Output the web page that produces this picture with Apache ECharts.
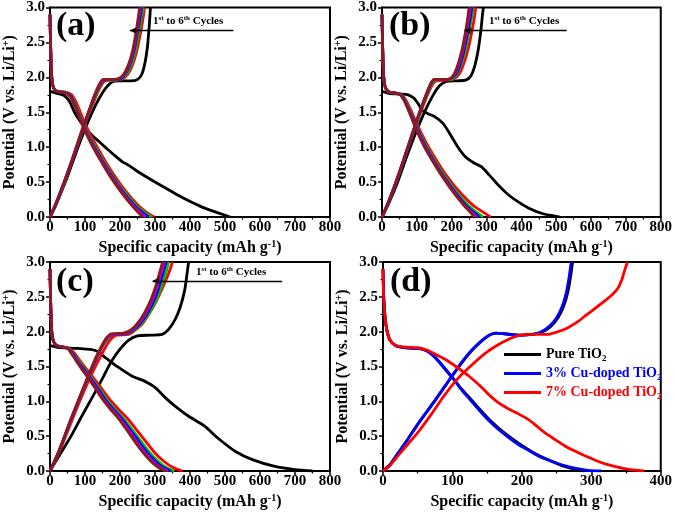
<!DOCTYPE html>
<html><head><meta charset="utf-8">
<script src="https://cdn.jsdelivr.net/npm/echarts@6/dist/echarts.min.js"></script>
<style>html,body{margin:0;padding:0;background:#fff}#c{width:675px;height:512px}</style>
</head><body><div id="c"></div>
<script>
// ---------------- DATA ----------------
const xTicksABC = [0,100,200,300,400,500,600,700,800];
const xTicksD = [0,100,200,300,400];
const yTicks = [0.0,0.5,1.0,1.5,2.0,2.5,3.0];
const cycleNames = ['Cycle 1','Cycle 2','Cycle 3','Cycle 4','Cycle 5','Cycle 6'];
const sampleNames = ['Pure TiO2','3% Cu-doped TiO2','7% Cu-doped TiO2'];

// Panel (a) discharge
const a1Dis = [[0,1.80],[20,1.77],[40,1.74],[55,1.66],[70,1.50],[85,1.38],[100,1.28],[120,1.17],[140,1.08],[160,0.99],[185,0.88],[207,0.79],[225,0.74],[245,0.67],[270,0.59],[300,0.50],[335,0.40],[370,0.30],[405,0.21],[440,0.13],[480,0.06],[515,0]];
const a2Dis = [[0,2.90],[2,2.40],[5,2.00],[10,1.85],[20,1.80],[45,1.79],[62,1.75],[75,1.64],[88,1.48],[100,1.34],[115,1.18],[135,1.00],[158,0.80],[183,0.60],[210,0.41],[235,0.26],[258,0.14],[278,0.06],[298,0]];
const a3Dis = [[0,2.90],[2,2.40],[5,2.00],[10,1.85],[20,1.80],[43,1.79],[60,1.74],[72,1.62],[85,1.46],[97,1.32],[112,1.16],[131,0.99],[154,0.79],[179,0.59],[205,0.41],[230,0.26],[252,0.14],[272,0.06],[290,0]];
const a4Dis = [[0,2.90],[2,2.40],[5,2.00],[10,1.85],[20,1.80],[42,1.78],[58,1.74],[70,1.62],[82,1.47],[94,1.33],[109,1.17],[128,0.99],[151,0.79],[176,0.59],[201,0.41],[225,0.26],[247,0.14],[266,0.06],[282,0]];
const a5Dis = [[0,2.90],[2,2.40],[5,2.00],[10,1.85],[20,1.80],[41,1.78],[56,1.74],[67,1.64],[80,1.49],[92,1.34],[107,1.18],[126,0.99],[149,0.79],[174,0.59],[199,0.41],[222,0.26],[243,0.14],[260,0.06],[273,0]];
const a6Dis = [[0,2.90],[2,2.40],[5,2.00],[10,1.85],[20,1.80],[40,1.78],[55,1.74],[65,1.66],[78,1.50],[90,1.35],[105,1.18],[125,0.98],[148,0.78],[172,0.58],[197,0.40],[220,0.25],[240,0.13],[255,0.05],[265,0]];
// Panel (a) charge
const a1Chg = [[0,0],[15,0.15],[30,0.33],[50,0.58],[70,0.86],[90,1.13],[110,1.38],[130,1.60],[150,1.78],[165,1.88],[180,1.94],[200,1.95],[230,1.95],[250,1.97],[262,2.04],[271,2.20],[278,2.42],[283,2.70],[287,3.00]];
const a2Chg = [[0,0],[15,0.16],[30,0.35],[50,0.62],[70,0.90],[90,1.19],[110,1.46],[130,1.71],[145,1.87],[158,1.95],[180,1.96],[205,1.97],[222,2.04],[236,2.18],[248,2.38],[258,2.62],[266,2.85],[270,3.00]];
const a3Chg = [[0,0],[15,0.16],[30,0.35],[50,0.62],[70,0.91],[90,1.20],[110,1.48],[129,1.73],[144,1.89],[155,1.96],[178,1.96],[201,1.97],[218,2.04],[232,2.18],[244,2.38],[253,2.62],[261,2.85],[266,3.00]];
const a4Chg = [[0,0],[15,0.16],[30,0.35],[50,0.63],[70,0.91],[90,1.21],[110,1.49],[128,1.74],[143,1.90],[154,1.96],[177,1.97],[199,1.97],[214,2.04],[228,2.18],[240,2.38],[249,2.62],[257,2.85],[262,3.00]];
const a5Chg = [[0,0],[15,0.17],[30,0.36],[50,0.63],[70,0.92],[90,1.22],[110,1.50],[128,1.75],[142,1.90],[153,1.96],[176,1.97],[197,1.98],[212,2.04],[226,2.18],[238,2.38],[247,2.62],[254,2.85],[259,3.00]];
const a6Chg = [[0,0],[15,0.17],[30,0.36],[50,0.63],[70,0.92],[90,1.22],[110,1.50],[128,1.75],[142,1.91],[152,1.97],[175,1.97],[195,1.98],[210,2.04],[224,2.18],[236,2.38],[245,2.62],[252,2.85],[256,3.00]];

// Panel (b) discharge
const b1Dis = [[0,1.80],[20,1.77],[50,1.76],[75,1.75],[92,1.70],[104,1.62],[115,1.53],[132,1.48],[150,1.44],[175,1.34],[195,1.19],[218,1.00],[240,0.86],[262,0.78],[285,0.72],[308,0.60],[335,0.45],[360,0.33],[390,0.22],[420,0.13],[460,0.05],[510,0]];
const b2Dis = [[0,2.90],[2,2.40],[5,2.00],[10,1.85],[20,1.79],[45,1.77],[58,1.75],[68,1.68],[82,1.54],[96,1.38],[112,1.21],[134,1.00],[158,0.80],[184,0.60],[212,0.42],[240,0.27],[266,0.15],[290,0.07],[312,0]];
const b3Dis = [[0,2.90],[2,2.40],[5,2.00],[10,1.85],[20,1.79],[43,1.77],[56,1.75],[66,1.68],[79,1.54],[93,1.38],[108,1.21],[129,1.00],[152,0.80],[178,0.60],[204,0.42],[229,0.27],[251,0.15],[271,0.07],[290,0]];
const b4Dis = [[0,2.90],[2,2.40],[5,2.00],[10,1.85],[20,1.79],[42,1.77],[55,1.75],[64,1.68],[77,1.54],[91,1.38],[106,1.21],[126,1.00],[149,0.80],[174,0.60],[200,0.42],[223,0.27],[244,0.15],[262,0.07],[280,0]];
const b5Dis = [[0,2.90],[2,2.40],[5,2.00],[10,1.85],[20,1.79],[41,1.77],[53,1.75],[63,1.68],[76,1.54],[89,1.38],[104,1.21],[124,1.00],[147,0.80],[172,0.60],[197,0.42],[220,0.27],[240,0.15],[257,0.07],[272,0]];
const b6Dis = [[0,2.90],[2,2.40],[5,2.00],[10,1.85],[20,1.79],[40,1.77],[52,1.75],[62,1.68],[75,1.54],[88,1.38],[102,1.21],[122,1.00],[145,0.80],[170,0.60],[195,0.42],[218,0.27],[238,0.15],[253,0.07],[265,0]];
// Panel (b) charge
const b1Chg = [[0,0],[20,0.20],[45,0.50],[70,0.85],[95,1.18],[120,1.48],[145,1.73],[165,1.88],[185,1.94],[215,1.95],[240,1.96],[255,2.02],[267,2.18],[277,2.42],[284,2.68],[288,2.88],[291,3.00]];
const b2Chg = [[0,0],[15,0.16],[30,0.35],[50,0.63],[70,0.92],[90,1.21],[110,1.49],[130,1.74],[143,1.88],[155,1.95],[180,1.96],[203,1.97],[222,2.05],[235,2.20],[247,2.40],[257,2.63],[265,2.85],[269,3.00]];
const b3Chg = [[0,0],[15,0.16],[30,0.36],[50,0.63],[70,0.93],[90,1.22],[110,1.51],[129,1.75],[141,1.89],[152,1.96],[177,1.97],[199,1.97],[216,2.05],[228,2.20],[240,2.40],[249,2.63],[257,2.85],[262,3.00]];
const b4Chg = [[0,0],[15,0.17],[30,0.36],[50,0.64],[70,0.93],[90,1.23],[110,1.52],[128,1.76],[140,1.90],[151,1.97],[176,1.97],[197,1.98],[213,2.05],[225,2.20],[236,2.40],[245,2.63],[253,2.85],[258,3.00]];
const b5Chg = [[0,0],[15,0.17],[30,0.36],[50,0.64],[70,0.94],[90,1.24],[110,1.53],[128,1.77],[140,1.91],[150,1.97],[175,1.97],[196,1.98],[210,2.05],[222,2.20],[233,2.40],[242,2.63],[249,2.85],[254,3.00]];
const b6Chg = [[0,0],[15,0.17],[30,0.36],[50,0.64],[70,0.94],[90,1.24],[110,1.53],[128,1.77],[140,1.91],[150,1.97],[175,1.97],[195,1.98],[207,2.05],[219,2.20],[230,2.40],[239,2.63],[246,2.85],[250,3.00]];

// Panel (c) discharge
const c1Dis = [[0,1.80],[30,1.77],[80,1.76],[130,1.73],[160,1.62],[195,1.49],[235,1.36],[270,1.29],[300,1.20],[330,1.05],[360,0.92],[395,0.79],[440,0.65],[480,0.47],[530,0.28],[580,0.16],[640,0.07],[700,0.02],[750,0]];
const c2Dis = [[0,2.90],[2,2.40],[5,2.00],[10,1.86],[20,1.80],[40,1.78],[55,1.76],[72,1.68],[86,1.58],[103,1.47],[125,1.33],[148,1.18],[170,1.03],[195,0.89],[220,0.76],[243,0.62],[271,0.44],[298,0.27],[325,0.14],[352,0.05],[378,0]];
const c3Dis = [[0,2.90],[2,2.40],[5,2.00],[10,1.86],[20,1.80],[38,1.78],[53,1.76],[68,1.68],[82,1.58],[98,1.47],[119,1.33],[141,1.18],[162,1.03],[185,0.89],[209,0.76],[231,0.62],[258,0.44],[284,0.27],[309,0.14],[332,0.05],[355,0]];
const c4Dis = [[0,2.90],[2,2.40],[5,2.00],[10,1.86],[20,1.80],[37,1.78],[52,1.76],[66,1.68],[79,1.58],[95,1.47],[116,1.33],[137,1.18],[157,1.03],[180,0.89],[204,0.76],[225,0.62],[251,0.44],[277,0.27],[301,0.14],[323,0.05],[345,0]];
const c5Dis = [[0,2.90],[2,2.40],[5,2.00],[10,1.86],[20,1.80],[36,1.78],[51,1.76],[64,1.68],[77,1.58],[92,1.47],[113,1.33],[133,1.18],[153,1.03],[176,0.89],[199,0.76],[220,0.62],[245,0.44],[270,0.27],[294,0.14],[316,0.05],[337,0]];
const c6Dis = [[0,2.90],[2,2.40],[5,2.00],[10,1.86],[20,1.80],[35,1.78],[50,1.76],[62,1.68],[75,1.58],[90,1.47],[110,1.33],[130,1.18],[150,1.03],[172,0.89],[195,0.76],[215,0.62],[240,0.44],[265,0.27],[288,0.14],[310,0.05],[330,0]];
// Panel (c) charge
const c1Chg = [[0,0],[30,0.25],[60,0.50],[90,0.78],[120,1.05],[150,1.33],[175,1.57],[200,1.75],[225,1.88],[250,1.94],[290,1.95],[320,1.96],[340,2.04],[358,2.18],[372,2.35],[385,2.60],[392,2.85],[396,3.00]];
const c2Chg = [[0,0],[20,0.20],[45,0.50],[70,0.82],[95,1.12],[120,1.40],[145,1.65],[170,1.87],[190,1.95],[225,1.96],[245,2.03],[265,2.12],[285,2.27],[305,2.45],[325,2.67],[340,2.85],[350,3.00]];
const c3Chg = [[0,0],[20,0.21],[40,0.46],[60,0.73],[80,0.98],[100,1.23],[120,1.47],[140,1.69],[160,1.87],[181,1.96],[218,1.97],[240,2.02],[262,2.12],[284,2.27],[306,2.48],[322,2.70],[333,2.88],[339,3.00]];
const c4Chg = [[0,0],[20,0.22],[40,0.47],[60,0.74],[80,0.99],[100,1.24],[120,1.48],[140,1.70],[160,1.88],[179,1.96],[215,1.97],[237,2.02],[258,2.12],[279,2.27],[300,2.48],[315,2.70],[325,2.88],[332,3.00]];
const c5Chg = [[0,0],[20,0.22],[40,0.47],[60,0.74],[80,0.99],[100,1.24],[120,1.49],[140,1.71],[160,1.89],[177,1.96],[212,1.97],[234,2.02],[254,2.12],[275,2.27],[295,2.48],[310,2.70],[320,2.88],[327,3.00]];
const c6Chg = [[0,0],[20,0.22],[40,0.48],[60,0.75],[80,1.00],[100,1.25],[120,1.50],[140,1.72],[160,1.90],[175,1.97],[210,1.98],[230,2.02],[250,2.12],[270,2.27],[290,2.48],[305,2.70],[315,2.88],[322,3.00]];

// Panel (d)
const dPureDis = [[0,2.90],[1,2.50],[3,2.20],[6,2.00],[10,1.88],[18,1.80],[30,1.77],[50,1.76],[62,1.73],[72,1.66],[82,1.56],[92,1.44],[102,1.32],[112,1.19],[124,1.06],[138,0.90],[152,0.75],[166,0.62],[181,0.50],[195,0.40],[209,0.31],[225,0.22],[243,0.14],[260,0.07],[275,0.03],[290,0]];
const dCu3Dis = [[0,2.90],[1,2.50],[3,2.20],[6,2.00],[10,1.88],[18,1.80],[30,1.77],[50,1.76],[62,1.73],[72,1.66],[82,1.55],[92,1.43],[102,1.31],[112,1.18],[124,1.04],[138,0.88],[152,0.73],[166,0.60],[181,0.48],[195,0.38],[209,0.30],[225,0.21],[243,0.14],[260,0.08],[276,0.04],[295,0.01],[314,0]];
const dCu7Dis = [[0,2.90],[1,2.50],[3,2.20],[6,2.00],[10,1.88],[18,1.80],[30,1.78],[50,1.77],[62,1.74],[75,1.68],[90,1.60],[105,1.50],[124,1.36],[140,1.22],[152,1.10],[165,0.99],[181,0.89],[195,0.82],[209,0.74],[222,0.64],[233,0.55],[248,0.45],[262,0.36],[280,0.27],[295,0.20],[312,0.13],[328,0.08],[350,0.03],[376,0]];
const dPureChg = [[0,0],[10,0.09],[22,0.26],[36,0.46],[50,0.67],[74,1.00],[95,1.30],[114,1.56],[131,1.76],[150,1.93],[163,1.98],[175,1.97],[195,1.95],[215,1.96],[230,2.00],[242,2.08],[252,2.20],[260,2.36],[266,2.56],[270,2.78],[273,3.00]];
const dCu3Chg = [[0,0],[10,0.09],[22,0.26],[36,0.46],[50,0.67],[74,1.00],[95,1.30],[114,1.57],[131,1.77],[150,1.93],[163,1.98],[175,1.97],[195,1.95],[215,1.96],[228,2.00],[240,2.08],[250,2.20],[258,2.36],[264,2.56],[268,2.78],[271,3.00]];
const dCu7Chg = [[0,0],[10,0.08],[25,0.26],[50,0.55],[70,0.82],[88,1.08],[108,1.33],[131,1.55],[150,1.71],[169,1.83],[185,1.91],[198,1.95],[215,1.96],[236,1.96],[252,2.00],[265,2.05],[280,2.14],[293,2.24],[305,2.33],[318,2.43],[330,2.53],[338,2.62],[344,2.75],[348,2.88],[352,3.00]];

// ---------------- CHART ----------------
const FONT = '"Liberation Serif","Times New Roman",serif';
const cycleColors = ['#000000','#ff0000','#00c000','#0000ff','#b000d0','#8b1a1a'];
const sampleColors = ['#000000','#0000ff','#ff0000'];

const grids = [
  {left:49, top:6, width:281, height:211},
  {left:382, top:6, width:281, height:211},
  {left:49, top:262, width:281, height:210},
  {left:383, top:262, width:280, height:210}
].map(g => Object.assign({show:true, borderColor:'#000', borderWidth:2, backgroundColor:'transparent'}, g));

const axisFont = {color:'#000', fontFamily:FONT, fontWeight:'bold'};
const supRich = {
  sup:{fontSize:10, fontFamily:FONT, fontWeight:'bold', color:'#000', verticalAlign:'top', lineHeight:10}
};

function makeX(i, ticks){
  return {
    gridIndex:i, type:'value', min:ticks[0], max:ticks[ticks.length-1], interval:ticks[1]-ticks[0],
    axisLine:{show:true, onZero:false, lineStyle:{color:'#000', width:2}},
    axisTick:{show:true, inside:false, length:4, lineStyle:{color:'#000', width:1.5}},
    minorTick:{show:true, splitNumber:2, length:2.5, lineStyle:{color:'#000', width:1.2}},
    splitLine:{show:false},
    axisLabel:Object.assign({fontSize:15, margin:3, showMinLabel:true, showMaxLabel:true, hideOverlap:false}, axisFont),
    name:'Specific capacity (mAh g{sup|-1})', nameLocation:'middle', nameGap:22,
    nameTextStyle:Object.assign({fontSize:16, lineHeight:18, rich:supRich}, axisFont)
  };
}
function makeY(i){
  return {
    gridIndex:i, type:'value', min:yTicks[0], max:yTicks[yTicks.length-1], interval:yTicks[1]-yTicks[0],
    axisLine:{show:true, onZero:false, lineStyle:{color:'#000', width:2}},
    axisTick:{show:true, inside:false, length:4, lineStyle:{color:'#000', width:1.5}},
    minorTick:{show:true, splitNumber:2, length:2.5, lineStyle:{color:'#000', width:1.2}},
    splitLine:{show:false},
    axisLabel:Object.assign({fontSize:15, margin:5, showMinLabel:true, showMaxLabel:true,
      formatter:v => v.toFixed(1)}, axisFont),
    name:'Potential (V vs. Li/Li{sup|+})', nameLocation:'middle', nameRotate:90, nameGap:31,
    nameTextStyle:Object.assign({fontSize:16, lineHeight:18, rich:supRich}, axisFont)
  };
}

const series = [];
function addLine(name, data, color, gi){
  series.push({
    name, type:'line', data, xAxisIndex:gi, yAxisIndex:gi,
    showSymbol:false, symbol:'none', smooth:0.25, clip:true,
    lineStyle:{color, width:2.8}, itemStyle:{color}, emphasis:{disabled:true}
  });
}
const panelA = [[a1Dis,a1Chg],[a2Dis,a2Chg],[a3Dis,a3Chg],[a4Dis,a4Chg],[a5Dis,a5Chg],[a6Dis,a6Chg]];
const panelB = [[b1Dis,b1Chg],[b2Dis,b2Chg],[b3Dis,b3Chg],[b4Dis,b4Chg],[b5Dis,b5Chg],[b6Dis,b6Chg]];
const panelC = [[c1Dis,c1Chg],[c2Dis,c2Chg],[c3Dis,c3Chg],[c4Dis,c4Chg],[c5Dis,c5Chg],[c6Dis,c6Chg]];
[panelA, panelB, panelC].forEach((panel, gi) => {
  panel.forEach((pair, k) => {
    addLine(cycleNames[k], pair[0], cycleColors[k], gi);
    addLine(cycleNames[k], pair[1], cycleColors[k], gi);
  });
});
const panelD = [[dPureDis,dPureChg],[dCu3Dis,dCu3Chg],[dCu7Dis,dCu7Chg]];
panelD.forEach((pair, k) => {
  addLine(sampleNames[k], pair[0], sampleColors[k], 3);
  addLine(sampleNames[k], pair[1], sampleColors[k], 3);
});

// arrows "1st to 6th Cycles" (data coordinates)
const arrowDefs = [
  {gi:0, x0:524, x1:228, y:2.67},
  {gi:1, x0:530, x1:237, y:2.67},
  {gi:2, x0:663, x1:293, y:2.73}
];
arrowDefs.forEach(a => {
  series.push({
    type:'line', xAxisIndex:a.gi, yAxisIndex:a.gi, data:[], silent:true,
    markLine:{
      silent:true, animation:false, label:{show:false},
      lineStyle:{color:'#000', width:1.3, type:'solid'},
      symbolSize:[5,7],
      data:[[{coord:[a.x0,a.y], symbol:'none'},{coord:[a.x1,a.y], symbol:'arrow'}]]
    }
  });
});

const labelFont = {fontFamily:FONT, fontWeight:'bold', fill:'#000'};
const graphic = [
  {type:'text', left:56, top:9, style:Object.assign({text:'(a)', fontSize:34}, labelFont)},
  {type:'text', left:389, top:9, style:Object.assign({text:'(b)', fontSize:34}, labelFont)},
  {type:'text', left:56, top:265, style:Object.assign({text:'(c)', fontSize:34}, labelFont)},
  {type:'text', left:390, top:265, style:Object.assign({text:'(d)', fontSize:34}, labelFont)}
];
const cycRich = {
  m:{fontSize:11, fontFamily:FONT, fontWeight:'bold', fill:'#000', lineHeight:13},
  s:{fontSize:7, fontFamily:FONT, fontWeight:'bold', fill:'#000', verticalAlign:'top', lineHeight:7}
};
[[153,15],[489,15],[196,266]].forEach(p => {
  graphic.push({type:'text', left:p[0], top:p[1],
    style:{text:'{m|1}{s|st}{m| to 6}{s|th}{m| Cycles}', rich:cycRich, fontFamily:FONT}});
});

const subRich = {
  sub:{fontSize:9, fontFamily:FONT, fontWeight:'bold', verticalAlign:'bottom', lineHeight:9}
};
const legend = {
  orient:'vertical', left:499, top:341, itemWidth:37, itemHeight:3, itemGap:2, icon:'rect',
  selectedMode:false,
  data:sampleNames.map((n,k) => ({name:n, textStyle:{color:sampleColors[k], rich:{sub:Object.assign({color:sampleColors[k]}, subRich.sub)}}})),
  formatter:n => n.replace('TiO2','TiO{sub|2}'),
  textStyle:{fontFamily:FONT, fontWeight:'bold', fontSize:14, lineHeight:17, rich:subRich}
};

const chart = echarts.init(document.getElementById('c'), null, {renderer:'canvas'});
chart.setOption({
  animation:false,
  backgroundColor:'#fff',
  grid:grids,
  xAxis:[makeX(0,xTicksABC), makeX(1,xTicksABC), makeX(2,xTicksABC), makeX(3,xTicksD)],
  yAxis:[makeY(0), makeY(1), makeY(2), makeY(3)],
  legend,
  graphic,
  series
});
</script></body></html>
